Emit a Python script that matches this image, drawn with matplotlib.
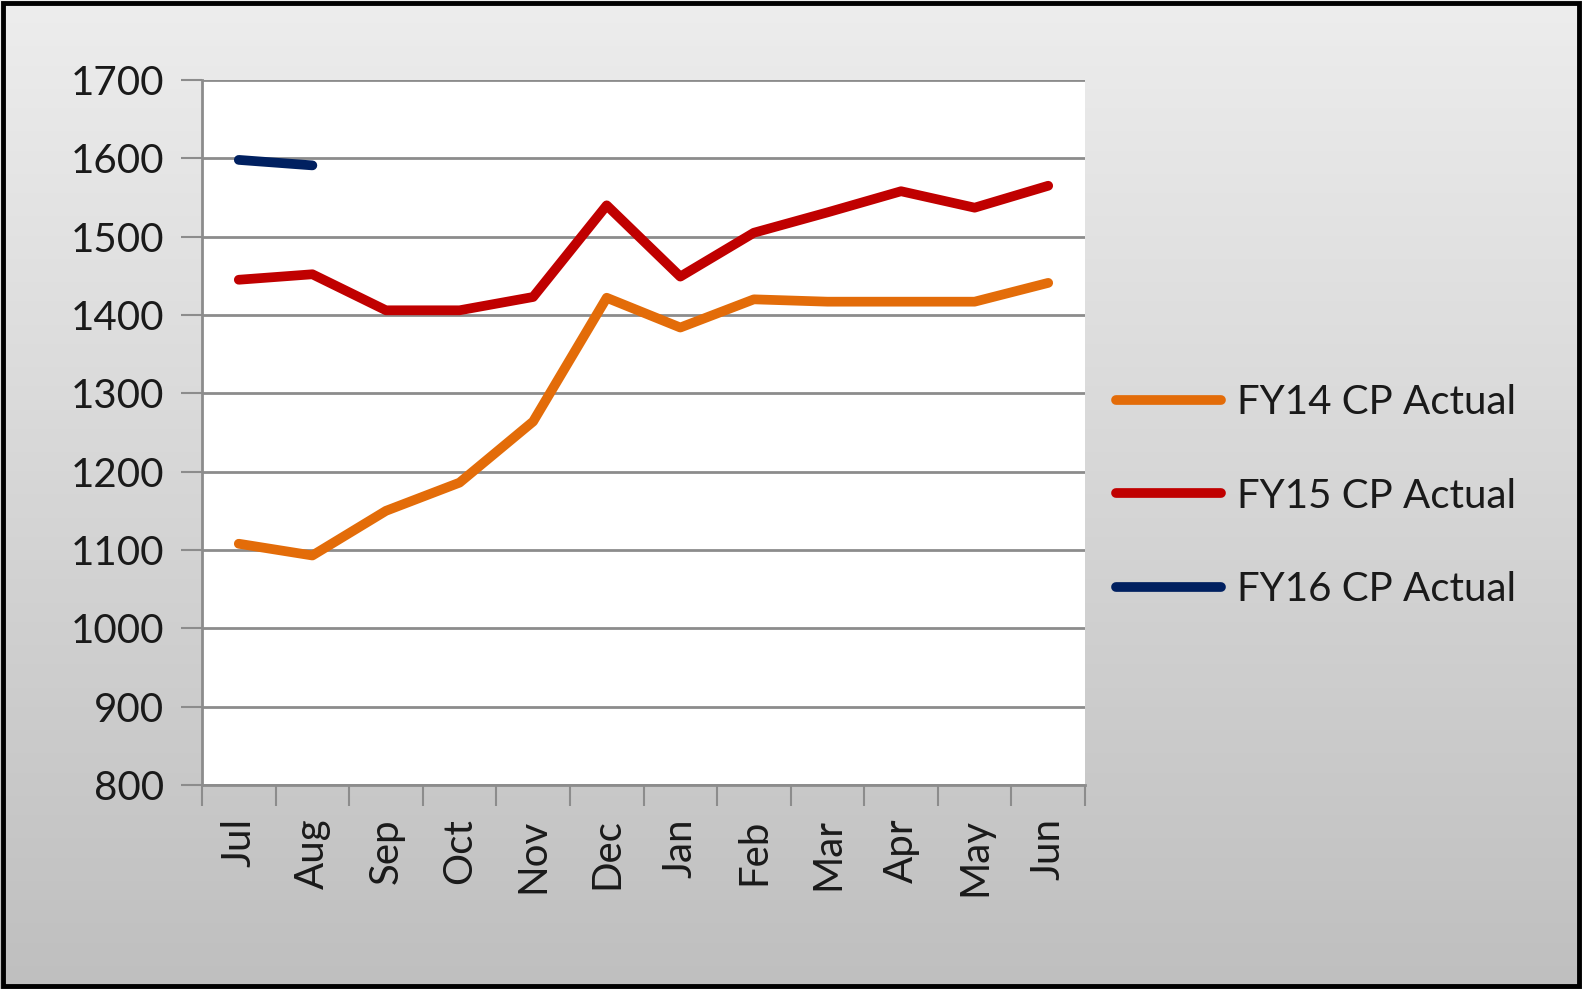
import matplotlib.pyplot as plt
import numpy as np
from matplotlib.lines import Line2D

plt.rcParams['font.family'] = ['Lato', 'DejaVu Sans']

months = ['Jul', 'Aug', 'Sep', 'Oct', 'Nov', 'Dec', 'Jan', 'Feb', 'Mar', 'Apr', 'May', 'Jun']
fy14 = [1108, 1093, 1150, 1186, 1264, 1422, 1384, 1420, 1417, 1417, 1417, 1441]
fy15 = [1445, 1452, 1406, 1406, 1423, 1540, 1449, 1505, 1531, 1558, 1537, 1565]
fy16 = [1598, 1591]
names = ['FY14 CP Actual', 'FY15 CP Actual', 'FY16 CP Actual']
colors = ['#E36C09', '#C00000', '#002060']

fig = plt.figure(figsize=(15.82, 9.89), dpi=100)

# gradient background over the whole figure
bg = fig.add_axes([0, 0, 1, 1], zorder=-10)
grad = np.linspace(0, 1, 256).reshape(-1, 1)
bg.imshow(grad, aspect='auto', cmap=plt.matplotlib.colors.LinearSegmentedColormap.from_list('g', ['#ededed', '#bfbfbf']),
          extent=[0, 1, 0, 1], origin='upper')
bg.set_xlim(0, 1)
bg.set_ylim(0, 1)
bg.axis('off')
bg.add_patch(plt.Rectangle((0.002, 0.003), 0.996, 0.994, fill=False, edgecolor='black', linewidth=3.5,
                           transform=bg.transAxes))

ax = fig.add_axes([202 / 1582, 1 - 785 / 989, (1085 - 202) / 1582, (785 - 80) / 989])
ax.set_facecolor('white')

x14 = np.arange(len(fy14)) + 0.5
x15 = np.arange(len(fy15)) + 0.5
x16 = np.arange(len(fy16)) + 0.5
for xs, ys, c, n in zip([x14, x15, x16], [fy14, fy15, fy16], colors, names):
    ax.plot(xs, ys, color=c, linewidth=7, solid_capstyle='round', solid_joinstyle='round', label=n, zorder=3)

ax.set_xlim(0, 12)
ax.set_ylim(800, 1700)
ax.set_yticks(np.arange(800, 1701, 100))
ax.yaxis.grid(True, color='#8c8c8c', linewidth=2)
ax.set_axisbelow(True)

ax.set_xticks(np.arange(0, 13))
ax.set_xticklabels([])
ax.set_xticks(np.arange(12) + 0.5, minor=True)
ax.set_xticklabels(months, minor=True, rotation=90)
ax.tick_params(axis='x', which='major', length=15, width=1.5, color='#8c8c8c')
ax.tick_params(axis='x', which='minor', length=0, pad=24, labelsize=29, labelcolor='#1a1a1a')
ax.tick_params(axis='y', length=15, width=1.5, color='#8c8c8c', labelsize=29, pad=12, labelcolor='#1a1a1a')

for s in ['top', 'right']:
    ax.spines[s].set_visible(False)
ax.spines['left'].set_color('#8c8c8c')
ax.spines['left'].set_linewidth(2)
ax.spines['bottom'].set_color('#8c8c8c')
ax.spines['bottom'].set_linewidth(2)

handles = [Line2D([0], [0], color=c, linewidth=7, solid_capstyle='round') for c in colors]
fig.legend(handles, names, loc='center left', bbox_to_anchor=(1116 / 1582, 1 - 496 / 989),
           frameon=False, fontsize=29, handlelength=2.6, handletextpad=0.4, labelspacing=1.4,
           borderpad=0, borderaxespad=0, labelcolor='#1a1a1a')

fig.savefig('out.png', dpi=100)
